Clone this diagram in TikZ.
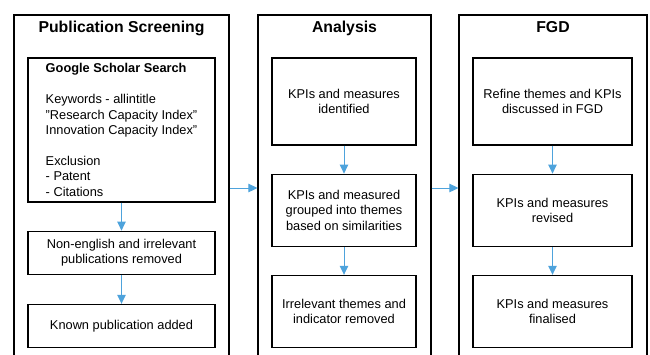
\documentclass[tikz,border=0pt]{standalone}
\usepackage{fontspec}
\setmainfont{Liberation Sans}
\usepackage{tikz}
\usetikzlibrary{positioning,arrows.meta}

\definecolor{flowblue}{HTML}{4EA3DC}

\begin{document}
\begin{tikzpicture}[
    x=1pt, y=-1pt,
    font=\fontsize{12.8}{15.4}\selectfont,
    frame/.style={draw, line width=1.2pt, minimum height=346pt, inner sep=0pt},
    title/.style={font=\fontsize{15.8}{18}\selectfont\bfseries, inner sep=0pt, anchor=base},
    stepbox/.style={draw, line width=1.2pt, align=center, inner sep=2pt},
    flow/.style={-{Triangle[length=9pt,width=8.5pt]}, flowblue, line width=1pt},
  ]
  \clip (0,0) rectangle (650,354);

  % stage frames (run past the bottom edge)
  \node[frame, minimum width=215pt] (ps) at (121.5,188) {};
  \node[frame, minimum width=173pt] (an) at (344.5,188) {};
  \node[frame, minimum width=188pt] (fg) at (553,188) {};

  \node[title] (pst) at (121.5,32.5) {Publication Screening};
  \node[title] (ant) at (344.5,32.5) {Analysis};
  \node[title] (fgt) at (553,32.5) {FGD};

  % publication screening
  \node[stepbox, align=left, minimum width=187pt, minimum height=144pt] (gs) at (121.5,130)
    {\textbf{Google Scholar Search}\\[15.4pt]
     Keywords - allintitle\\
     "Research Capacity Index"\\
     Innovation Capacity Index"\\[15.4pt]
     Exclusion\\
     - Patent\\
     - Citations};
  \node[stepbox, minimum width=187pt, minimum height=43pt, below=28pt of gs] (ne)
    {Non-english and irrelevant\\publications removed};
  \node[stepbox, minimum width=187pt, minimum height=43pt, below=29pt of ne] (kp)
    {Known publication added};

  % analysis
  \node[stepbox, minimum width=144pt, minimum height=87pt] (ki) at (344,101.5)
    {KPIs and measures\\identified};
  \node[stepbox, minimum width=144pt, minimum height=72pt, below=28pt of ki] (kg)
    {KPIs and measured\\grouped into themes\\based on similarities};
  \node[stepbox, minimum width=144pt, minimum height=72pt, below=28pt of kg] (ir)
    {Irrelevant themes and\\indicator removed};

  % fgd
  \node[stepbox, minimum width=159pt, minimum height=87pt] (rf) at (552.5,101.5)
    {Refine themes and KPIs\\discussed in FGD};
  \node[stepbox, minimum width=159pt, minimum height=72pt, below=28pt of rf] (kr)
    {KPIs and measures\\revised};
  \node[stepbox, minimum width=159pt, minimum height=72pt, below=28pt of kr] (kf)
    {KPIs and measures\\finalised};

  \draw[flow] (gs) -- (ne);
  \draw[flow] (ne) -- (kp);
  \draw[flow] (ki) -- (kg);
  \draw[flow] (kg) -- (ir);
  \draw[flow] (rf) -- (kr);
  \draw[flow] (kr) -- (kf);

  \draw[flow] (ps) -- (an);
  \draw[flow] (an) -- (fg);
\end{tikzpicture}
\end{document}
